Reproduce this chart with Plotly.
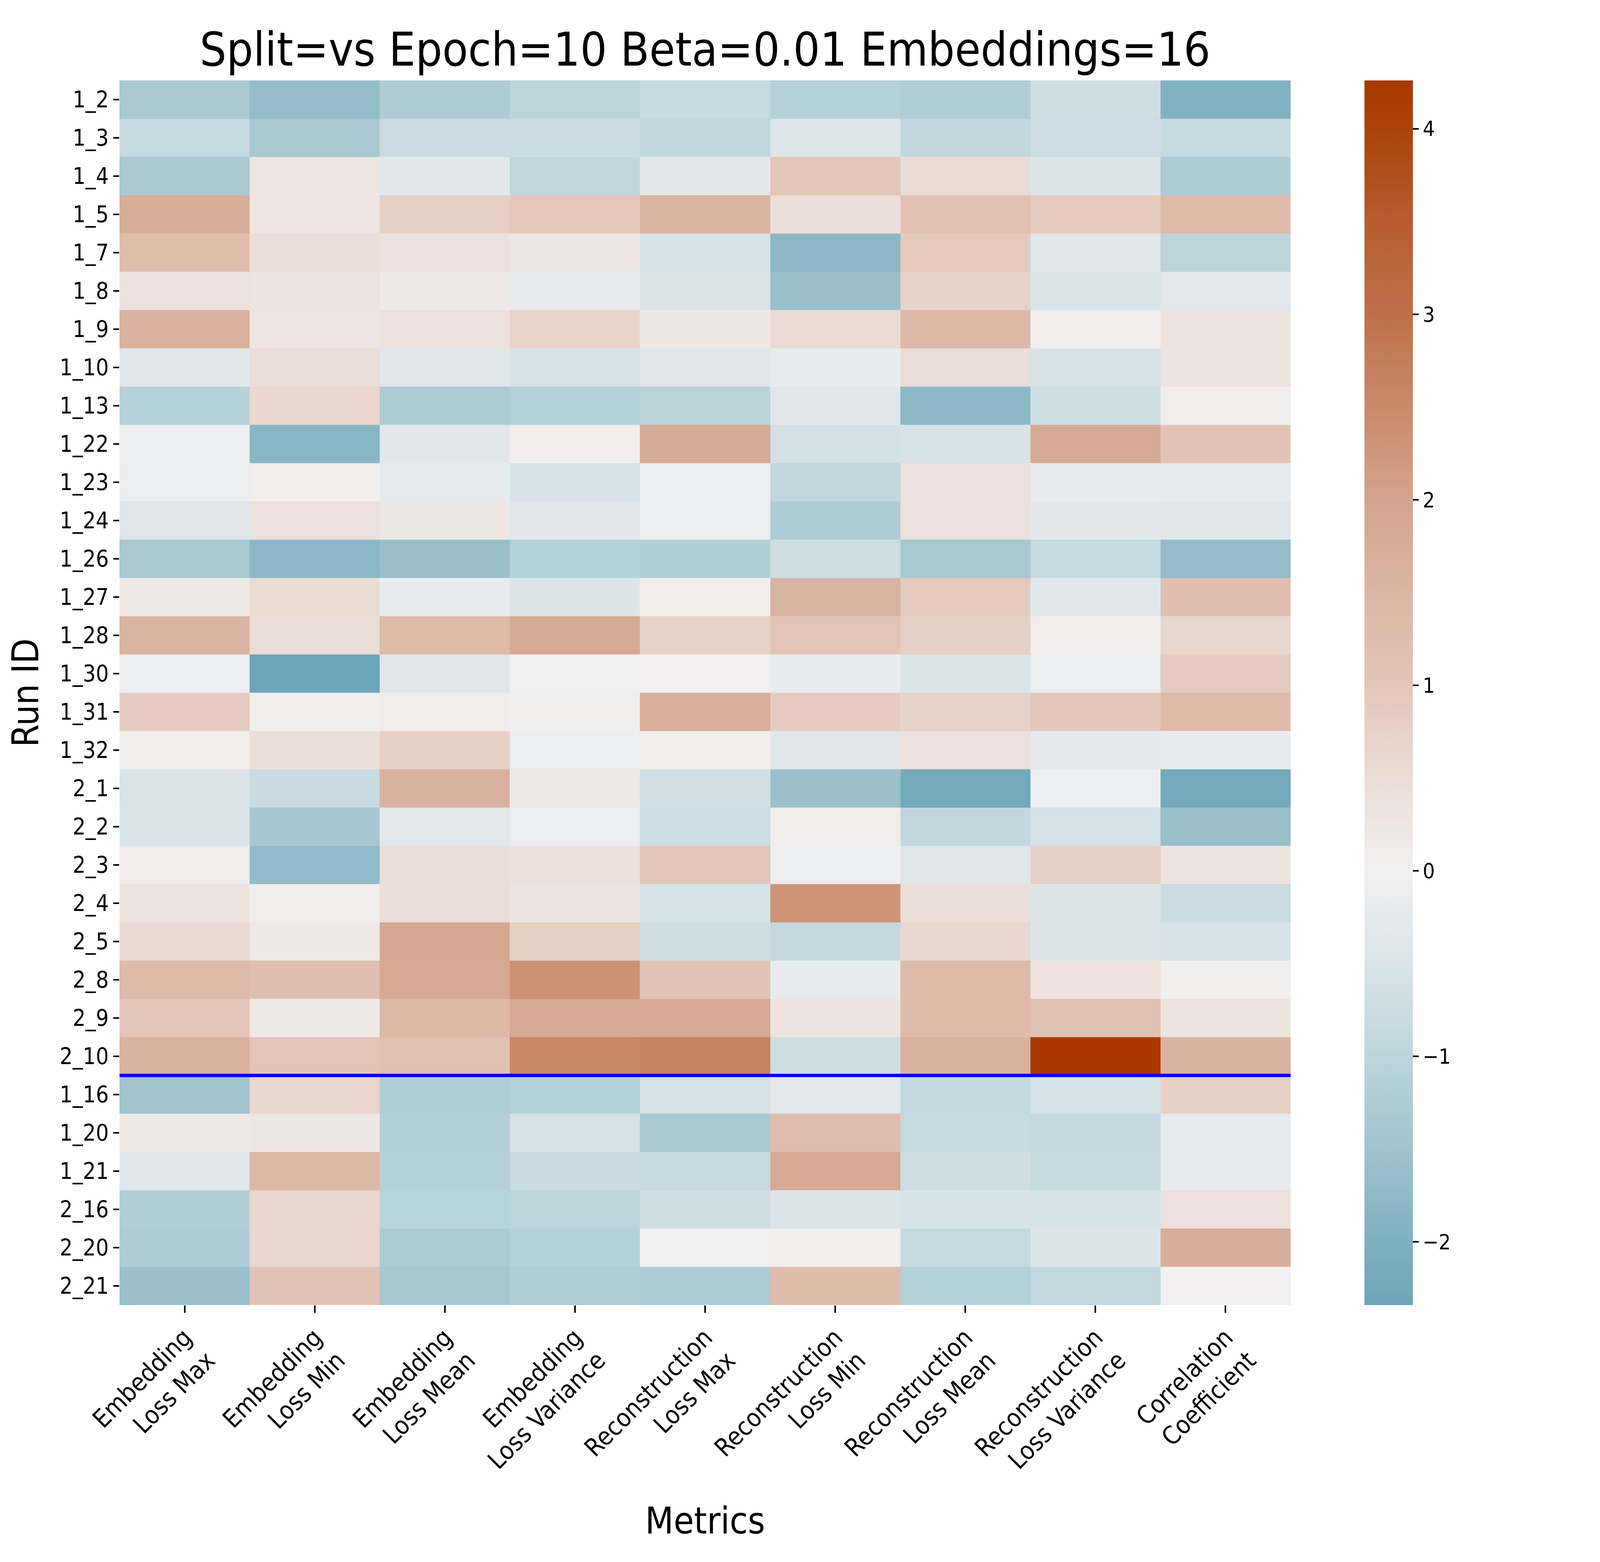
import numpy as np
import plotly.graph_objects as go

# run ids (rows) and metric names (columns)
run_ids = ["1_2", "1_3", "1_4", "1_5", "1_7", "1_8", "1_9", "1_10", "1_13",
           "1_22", "1_23", "1_24", "1_26", "1_27", "1_28", "1_30", "1_31", "1_32",
           "2_1", "2_2", "2_3", "2_4", "2_5", "2_8", "2_9", "2_10",
           "1_16", "1_20", "1_21", "2_16", "2_20", "2_21"]
metric_labels = ["Embedding<br>Loss Max", "Embedding<br>Loss Min", "Embedding<br>Loss Mean",
                 "Embedding<br>Loss Variance", "Reconstruction<br>Loss Max",
                 "Reconstruction<br>Loss Min", "Reconstruction<br>Loss Mean",
                 "Reconstruction<br>Loss Variance", "Correlation<br>Coefficient"]

# standardized scores, one list per metric (same order as run_ids)
emb_max = [-1.35, -0.85, -1.35, 1.75, 1.25, 0.40, 1.65, -0.37, -1.08,
           -0.10, -0.15, -0.42, -1.35, 0.18, 1.55, -0.10, 0.88, 0.06,
           -0.52, -0.48, 0.12, 0.33, 0.58, 1.35, 0.98, 1.60,
           -1.50, 0.18, -0.35, -1.18, -1.22, -1.58]
emb_min = [-1.70, -1.35, 0.30, 0.30, 0.50, 0.35, 0.30, 0.50, 0.62,
           -1.85, 0.05, 0.40, -1.80, 0.55, 0.50, -2.34, 0.06, 0.48,
           -0.80, -1.40, -1.72, 0.10, 0.18, 1.20, 0.20, 1.02,
           0.65, 0.25, 1.45, 0.65, 0.65, 1.05]
emb_mean = [-1.25, -0.78, -0.35, 0.80, 0.40, 0.18, 0.40, -0.37, -1.25,
            -0.35, -0.22, 0.25, -1.60, -0.22, 1.35, -0.40, 0.12, 0.78,
            1.60, -0.33, 0.50, 0.50, 1.90, 1.85, 1.45, 1.15,
            -1.20, -1.15, -1.10, -1.05, -1.27, -1.38]
emb_var = [-1.00, -0.78, -0.95, 0.95, 0.28, -0.20, 0.70, -0.55, -1.10,
           0.05, -0.55, -0.35, -1.12, -0.48, 1.80, -0.03, 0.05, -0.15,
           0.20, -0.10, 0.42, 0.35, 0.80, 2.35, 1.85, 2.55,
           -1.10, -0.60, -0.80, -1.00, -1.10, -1.20]
rec_max = [-0.85, -0.95, -0.35, 1.55, -0.57, -0.52, 0.25, -0.37, -1.03,
           1.80, -0.15, -0.15, -1.20, 0.05, 0.72, 0.04, 1.70, 0.07,
           -0.63, -0.75, 1.00, -0.57, -0.70, 1.05, 1.82, 2.62,
           -0.60, -1.32, -0.85, -0.70, -0.05, -1.27]
rec_min = [-1.10, -0.45, 1.00, 0.45, -1.82, -1.60, 0.55, -0.20, -0.37,
           -0.62, -0.93, -1.22, -0.70, 1.55, 1.00, -0.18, 0.88, -0.37,
           -1.58, 0.12, -0.10, 2.30, -0.87, -0.22, 0.35, -0.70,
           -0.33, 1.22, 1.82, -0.47, 0.07, 1.28]
rec_mean = [-1.20, -0.92, 0.55, 1.15, 0.90, 0.72, 1.40, 0.50, -1.80,
            -0.55, 0.40, 0.40, -1.35, 0.92, 0.80, -0.47, 0.72, 0.40,
            -2.20, -0.92, -0.42, 0.50, 0.60, 1.38, 1.32, 1.60,
            -0.90, -0.85, -0.70, -0.55, -0.85, -1.10]
rec_var = [-0.70, -0.75, -0.50, 0.90, -0.37, -0.48, 0.07, -0.55, -0.70,
           1.85, -0.22, -0.35, -0.85, -0.35, 0.12, -0.15, 0.98, -0.32,
           -0.10, -0.60, 0.80, -0.47, -0.47, 0.37, 1.15, 4.26,
           -0.60, -0.90, -0.85, -0.55, -0.47, -0.90]
corr_coef = [-1.95, -0.85, -1.25, 1.35, -1.00, -0.33, 0.35, 0.35, 0.05,
             1.05, -0.22, -0.37, -1.70, 1.20, 0.65, 0.88, 1.38, -0.18,
             -2.20, -1.60, 0.33, -0.78, -0.55, 0.06, 0.35, 1.60,
             0.78, -0.22, -0.22, 0.40, 1.72, 0.02]

# colour stops sampled from the reference colour bar (value, colour)
cbar_values = [-2.34, -2.0, -1.5, -1.0, -0.5, 0.0, 0.5, 1.0, 1.5, 2.0, 2.5, 3.0, 3.5, 4.0, 4.26]
cbar_colors = ["#6ca5b8", "#7fb0c0", "#a0c3ce", "#bcd5db", "#dae4e9", "#f2f1f1",
               "#ebddd7", "#e3c5b8", "#dbb6a4", "#d3a48c", "#c98a6b", "#be7049",
               "#b65d30", "#ac4209", "#a83800"]
zmin, zmax = cbar_values[0], cbar_values[-1]
colorscale = [[(v - zmin) / (zmax - zmin), c] for v, c in zip(cbar_values, cbar_colors)]

z = np.array([emb_max, emb_min, emb_mean, emb_var, rec_max,
              rec_min, rec_mean, rec_var, corr_coef]).T

# the browser window is 4096 px wide, so the 5200 px wide layout is squeezed sideways
W, H = 4096, 4000
sx = W / 5200
FONT = "DejaVu Sans Condensed, DejaVu Sans"

fig = go.Figure()
fig.add_trace(go.Heatmap(
    z=z,
    x=list(range(len(metric_labels))),
    y=list(range(len(run_ids))),
    zmin=zmin, zmax=zmax,
    colorscale=colorscale,
    colorbar=dict(
        x=1.0632, xanchor="left", xpad=0, ypad=0,
        y=0.5, yanchor="middle", len=1, lenmode="fraction",
        thickness=round(157 * sx), thicknessmode="pixels",
        outlinewidth=0,
        tickvals=[-2, -1, 0, 1, 2, 3, 4],
        ticks="outside", ticklen=15, tickwidth=4, tickcolor="black",
        tickfont=dict(family=FONT, size=54, color="black"),
    ),
    hoverongaps=False,
))

# separator between the two groups of runs
n_first = run_ids.index("2_10") + 1
fig.add_shape(type="line", xref="paper", x0=0, x1=1, yref="y",
              y0=n_first - 0.5, y1=n_first - 0.5,
              line=dict(color="#0000ff", width=8.5))

fig.update_layout(
    width=W, height=H,
    margin=dict(l=round(378 * sx), r=W - round(4185 * sx), t=198, b=666),
    paper_bgcolor="white", plot_bgcolor="white",
    font=dict(family=FONT, color="black"),
    title=dict(text="Split=vs Epoch=10 Beta=0.01 Embeddings=16",
               x=0.5, xref="paper", xanchor="center",
               y=1 - 118 / 4000, yref="container", yanchor="middle",
               font=dict(family=FONT, size=120, color="black")),
)
fig.update_xaxes(
    tickvals=list(range(len(metric_labels))), ticktext=metric_labels,
    tickangle=-45, ticks="outside", ticklen=19, tickwidth=4, tickcolor="black",
    tickfont=dict(family=FONT, size=64),
    showgrid=False, zeroline=False, showline=False,
    title=dict(text="Metrics", font=dict(family=FONT, size=94), standoff=58),
)
fig.update_yaxes(
    tickvals=list(range(len(run_ids))), ticktext=run_ids,
    autorange="reversed",
    ticks="outside", ticklen=15, tickwidth=4, tickcolor="black",
    tickfont=dict(family=FONT, size=58),
    showgrid=False, zeroline=False, showline=False,
    title=dict(text="Run ID", font=dict(family=FONT, size=94), standoff=22),
)

fig.write_html("out.html")
